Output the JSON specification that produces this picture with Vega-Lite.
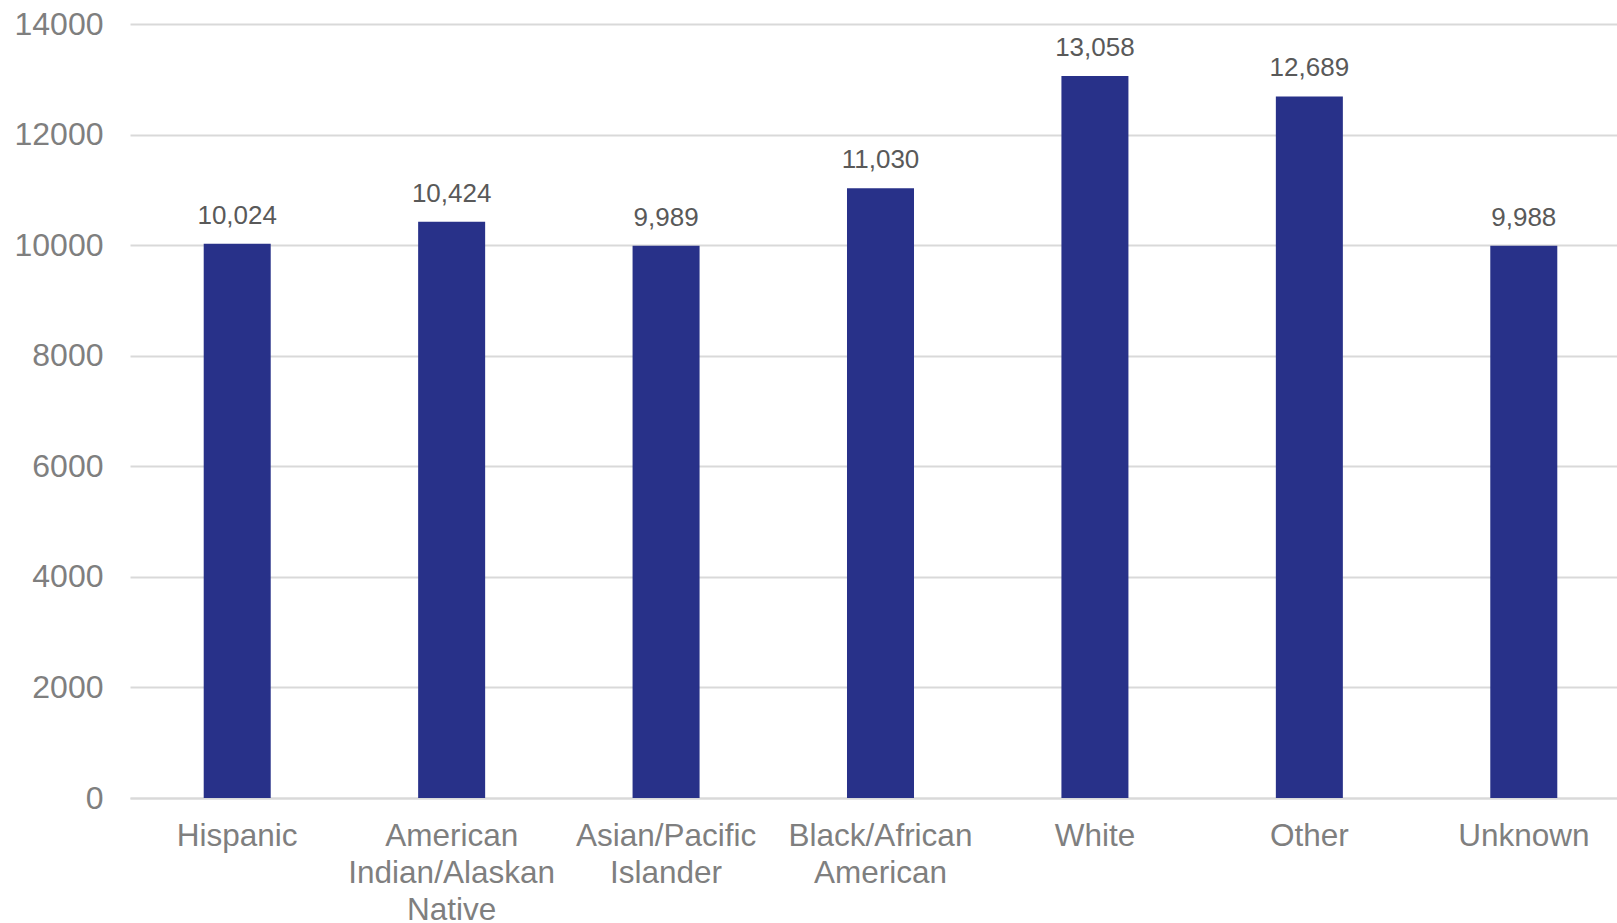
{
  "$schema": "https://vega.github.io/schema/vega-lite/v6.json",
  "autosize": {"type": "none"},
  "padding": {"left": 130, "top": 24, "right": 0, "bottom": 125},
  "width": 1501,
  "height": 774,
  "background": "white",
  "config": {
    "view": {"stroke": null},
    "font": "Liberation Sans"
  },
  "data": {
    "values": [
      {"group": "Hispanic", "value": 10024},
      {"group": "American Indian/Alaskan Native", "value": 10424},
      {"group": "Asian/Pacific Islander", "value": 9989},
      {"group": "Black/African American", "value": 11030},
      {"group": "White", "value": 13058},
      {"group": "Other", "value": 12689},
      {"group": "Unknown", "value": 9988}
    ]
  },
  "encoding": {
    "x": {
      "field": "group",
      "type": "nominal",
      "sort": null,
      "scale": {"paddingInner": 0.6875, "paddingOuter": 0.34375},
      "axis": {
        "title": null,
        "labelAngle": 0,
        "labelFont": "Liberation Sans",
        "labelFontSize": 31.5,
        "labelColor": "#7f7f7f",
        "labelPadding": 22,
        "labelLineHeight": 37,
        "labelExpr": "datum.label == 'American Indian/Alaskan Native' ? ['American', 'Indian/Alaskan', 'Native'] : datum.label == 'Asian/Pacific Islander' ? ['Asian/Pacific', 'Islander'] : datum.label == 'Black/African American' ? ['Black/African', 'American'] : datum.label",
        "ticks": false,
        "domainColor": "#d9d9d9",
        "domainWidth": 2,
        "labelLimit": 400
      }
    },
    "y": {
      "field": "value",
      "type": "quantitative",
      "scale": {"domain": [0, 14000], "nice": false},
      "axis": {
        "title": null,
        "values": [0, 2000, 4000, 6000, 8000, 10000, 12000, 14000],
        "format": "d",
        "labelFont": "Liberation Sans",
        "labelFontSize": 32,
        "labelColor": "#7f7f7f",
        "labelPadding": 27,
        "ticks": false,
        "domain": false,
        "gridColor": "#d9d9d9",
        "gridWidth": 2
      }
    }
  },
  "layer": [
    {"mark": {"type": "bar", "color": "#283189"}},
    {
      "mark": {
        "type": "text",
        "baseline": "alphabetic",
        "dy": -20,
        "fontSize": 26,
        "font": "Liberation Sans",
        "color": "#595959"
      },
      "encoding": {
        "text": {"field": "value", "type": "quantitative", "format": ","}
      }
    }
  ]
}
